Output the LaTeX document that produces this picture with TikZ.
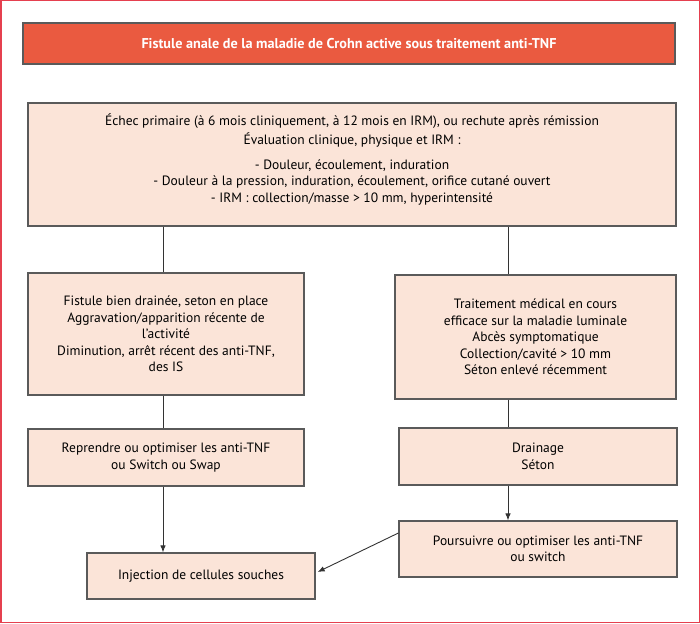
\documentclass[tikz,border=0pt]{standalone}
\usepackage{fontspec}
\setmainfont{PT Sans}
\usepackage{tikz}
\usetikzlibrary{arrows.meta}
\definecolor{titrerouge}{HTML}{EA5A40}
\definecolor{peche}{HTML}{FBE4D8}
\definecolor{bord}{HTML}{5A5A5A}
\definecolor{cadre}{HTML}{E5404F}
\tikzset{
	boite/.style={draw=bord, line width=1.2pt, fill=peche, align=center, inner sep=0pt},
	titre/.style={boite, fill=titrerouge, text=white, font=\bfseries\fontsize{14.2}{17}\selectfont},
	lien/.style={draw=black!80, line width=0.9pt},
	fleche/.style={lien, -{Latex[length=7pt,width=5.5pt]}}
}

\begin{document}
\begin{tikzpicture}[x=1pt, y=-1pt, font=\fontsize{13.5}{16.5}\selectfont]
	\useasboundingbox (0,0) rectangle (700,623);
	\draw [cadre, line width=1.5pt] (0.75,0.75) rectangle (699.25,622.25);

	% titre
	\node [titre, minimum width=652, minimum height=41] (titre) at (349,43.5)
		{Fistule anale de la maladie de Crohn active sous traitement anti-TNF};

	% evaluation
	\node [boite, minimum width=648, minimum height=123] (eval) at (352,164.5) {};
	\node [align=center, inner sep=0pt] (evaltxt) at (352,159.5)
		{Échec primaire (à 6 mois cliniquement, à 12 mois en IRM), ou rechute après rémission\\[2pt]
		 Évaluation clinique, physique et IRM :\\[8.5pt]
		 - Douleur, écoulement, induration\\
		 - Douleur à la pression, induration, écoulement, orifice cutané ouvert\\
		 - IRM : collection/masse > 10 mm, hyperintensité};

	\node [boite, minimum width=276, minimum height=122] (gauche) at (166,334)
		{Fistule bien drainée, seton en place\\
		 Aggravation/apparition récente de\\
		 l’activité\\
		 Diminution, arrêt récent des anti-TNF,\\
		 des IS};
	\node [boite, minimum width=281, minimum height=124] (droite) at (535.5,337)
		{Traitement médical en cours\\
		 efficace sur la maladie luminale\\
		 Abcès symptomatique\\
		 Collection/cavité > 10 mm\\
		 Séton enlevé récemment};

	\node [boite, minimum width=276, minimum height=57] (reprendre) at (166,457.5)
		{Reprendre ou optimiser les anti-TNF\\ ou Switch ou Swap};
	\node [boite, minimum width=278, minimum height=57] (drainage) at (538,456.5)
		{Drainage\\ Séton};
	\node [boite, minimum width=278, minimum height=56] (poursuivre) at (538,549)
		{Poursuivre ou optimiser les anti-TNF\\ ou switch};
	\node [boite, minimum width=228, minimum height=46] (injection) at (201,576)
		{Injection de cellules souches};

	% liens
	\coordinate (xg) at (163,0);
	\coordinate (xd) at (508,0);
	\draw [lien] (eval.south -| xg) -- (gauche.north -| xg);
	\draw [lien] (eval.south -| xd) -- (droite.north -| xd);
	\draw [lien] (gauche.south -| xg) -- (reprendre.north -| xg);
	\draw [lien] (droite.south -| xd) -- (drainage.north -| xd);
	\draw [fleche] (reprendre.south -| xg) -- (injection.north -| xg);
	\draw [fleche] (drainage.south -| xd) -- (poursuivre.north -| xd);
	\draw [fleche] ([yshift=16pt]poursuivre.west) -- ([xshift=2pt,yshift=4pt]injection.east);
\end{tikzpicture}
\end{document}
